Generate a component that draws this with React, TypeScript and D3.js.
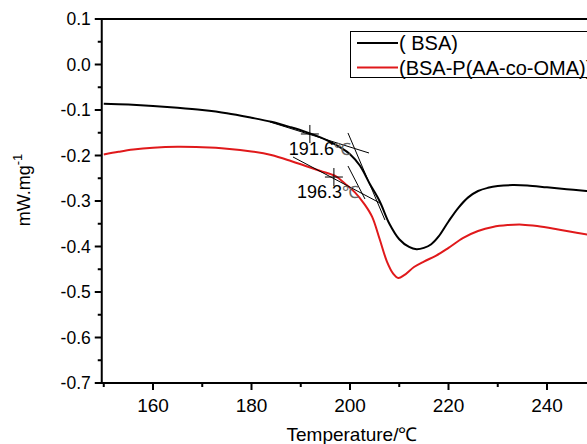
import React from "react";
import * as d3 from "d3";

const bsaX = [150, 155, 160, 165, 170, 175, 180, 184, 188, 191, 194, 196, 198, 200, 202, 204, 206, 208, 210, 212, 213.5, 215, 216.5, 218, 220, 222, 224, 226, 228, 230, 233, 236, 240, 244, 248, 250];
const bsaY = [-0.086, -0.088, -0.091, -0.095, -0.1, -0.107, -0.117, -0.126, -0.138, -0.148, -0.16, -0.17, -0.182, -0.197, -0.222, -0.262, -0.3, -0.35, -0.384, -0.401, -0.406, -0.403, -0.395, -0.378, -0.345, -0.315, -0.292, -0.278, -0.271, -0.267, -0.265, -0.266, -0.27, -0.274, -0.278, -0.28];

const copX = [150, 153, 156, 160, 165, 170, 175, 180, 184, 188, 191, 194, 197, 199, 201, 203, 204.5, 206, 207.5, 208.8, 209.8, 211, 213, 215, 217.5, 220, 223, 226, 229, 232, 235, 238, 242, 246, 250];
const copY = [-0.198, -0.192, -0.187, -0.183, -0.181, -0.182, -0.185, -0.191, -0.199, -0.212, -0.223, -0.234, -0.245, -0.262, -0.281, -0.308, -0.335, -0.383, -0.433, -0.46, -0.469, -0.463, -0.445, -0.433, -0.42, -0.403, -0.381, -0.366, -0.357, -0.353, -0.352, -0.355, -0.362, -0.37, -0.377];

const seriesNames = ["( BSA)", "(BSA-P(AA-co-OMA))"];
const seriesColors = ["#000000", "#e0191b"];

const xTicks = [160, 180, 200, 220, 240];
const yTicks = [0.1, 0.0, -0.1, -0.2, -0.3, -0.4, -0.5, -0.6, -0.7];

// tangent lines [x1, y1, x2, y2] in data units
const tangents = [
  [183.76, -0.1264, 203.86, -0.1945],
  [199.59, -0.1505, 207.1, -0.3418],
  [188.43, -0.2033, 206.09, -0.3044],
  [199.59, -0.2231, 203.04, -0.2956],
];
const onsetX = [191.85, 196.73];
const onsetY = [-0.1527, -0.2473];
const onsetLabels = ["191.6", "196.3"];
const labelDx = [-21, -37];

const W = 587;
const H = 444;
const left = 103.75;
const top = 19;
const bottom = 383;

export default function App() {
  const x = d3.scaleLinear().domain([150, 250]).range([left, left + 100 * 4.925]);
  const y = d3.scaleLinear().domain([0.1, -0.7]).range([top, bottom]);
  const line = d3
    .line<[number, number]>()
    .x((d) => x(d[0]))
    .y((d) => y(d[1]))
    .curve(d3.curveCatmullRom.alpha(0.5));
  const bsa = bsaX.map((v, i) => [v, bsaY[i]] as [number, number]);
  const cop = copX.map((v, i) => [v, copY[i]] as [number, number]);
  const xMinor = d3.range(150, 251, 10).filter((v) => !xTicks.includes(v));
  const yMinor = d3.range(0, 16).map((i) => 0.05 - i * 0.1).filter((v) => v > -0.7);
  const font = "'Liberation Sans', Arial, sans-serif";
  const axisX = left - 2;
  return (
    <svg width={W} height={H} style={{ position: "absolute", left: 0, top: 0, background: "#fff" }} fontFamily={font}>
      <rect x={0} y={0} width={W} height={H} fill="#fff" />
      {/* curves */}
      <path d={line(bsa) || ""} fill="none" stroke={seriesColors[0]} strokeWidth={2} />
      <path d={line(cop) || ""} fill="none" stroke={seriesColors[1]} strokeWidth={2} />
      {/* tangents */}
      {tangents.map((t, i) => (
        <line key={i} x1={x(t[0])} y1={y(t[1])} x2={x(t[2])} y2={y(t[3])} stroke="#000" strokeWidth={1} />
      ))}
      {onsetX.map((v, i) => (
        <g key={i}>
          <line x1={x(v) - 9} x2={x(v) + 9} y1={y(onsetY[i])} y2={y(onsetY[i])} stroke="#000" strokeWidth={1} />
          <line x1={x(v)} x2={x(v)} y1={y(onsetY[i]) - 9} y2={y(onsetY[i]) + 9} stroke="#000" strokeWidth={1} />
          <text x={x(v) + labelDx[i]} y={y(onsetY[i]) + 21} fontSize={18} fill="#000">
            {onsetLabels[i]}
            <tspan fill="#666" fontSize={17}>℃</tspan>
          </text>
        </g>
      ))}
      {/* frame */}
      <line x1={axisX} x2={W} y1={top} y2={top} stroke="#000" strokeWidth={2} />
      <line x1={axisX} x2={axisX} y1={top - 1} y2={bottom + 1} stroke="#000" strokeWidth={2} />
      <line x1={axisX - 1} x2={W} y1={bottom} y2={bottom} stroke="#000" strokeWidth={2} />
      {/* y ticks */}
      {yTicks.map((v) => (
        <g key={v}>
          <line x1={axisX - 7} x2={axisX} y1={y(v)} y2={y(v)} stroke="#000" strokeWidth={2} />
          <text x={axisX - 11} y={y(v) + 6} textAnchor="end" fontSize={17.5} fill="#000">
            {v.toFixed(1)}
          </text>
        </g>
      ))}
      {yMinor.map((v) => (
        <line key={v} x1={axisX - 4} x2={axisX} y1={y(v)} y2={y(v)} stroke="#000" strokeWidth={2} />
      ))}
      {/* x ticks */}
      {xTicks.map((v) => (
        <g key={v}>
          <line x1={x(v)} x2={x(v)} y1={bottom} y2={bottom + 7} stroke="#000" strokeWidth={2} />
          <text x={x(v)} y={bottom + 29} textAnchor="middle" fontSize={19} fill="#000">
            {v}
          </text>
        </g>
      ))}
      {xMinor.map((v) => (
        <line key={v} x1={x(v)} x2={x(v)} y1={bottom} y2={bottom + 4} stroke="#000" strokeWidth={2} />
      ))}
      {/* axis titles */}
      <text x={352} y={441} textAnchor="middle" fontSize={19} fill="#000">
        Temperature/℃
      </text>
      <text transform="translate(30,190) rotate(-90)" textAnchor="middle" fontSize={18} fill="#000">
        mW.mg<tspan dy={-8} fontSize={13}>-1</tspan>
      </text>
      {/* legend */}
      <rect x={350.5} y={31.5} width={260} height={46} fill="#fff" stroke="#000" strokeWidth={1} />
      {seriesNames.map((n, i) => (
        <g key={n}>
          <line x1={357} x2={398} y1={43 + i * 24.5} y2={43 + i * 24.5} stroke={seriesColors[i]} strokeWidth={2} />
          <text x={399} y={50 + i * 24.5} fontSize={20} fill="#000">
            {n}
          </text>
        </g>
      ))}
    </svg>
  );
}
